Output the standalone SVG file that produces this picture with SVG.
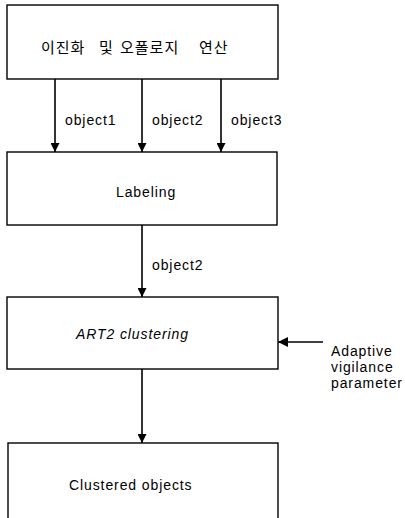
<svg xmlns="http://www.w3.org/2000/svg" width="405" height="518" viewBox="0 0 405 518">
<defs>
<style>
.box{fill:#fff;stroke:#000;stroke-width:1.4}
.t{font-family:"Liberation Sans",Arial,sans-serif;font-size:14px;fill:#000;letter-spacing:0.9px}
.k{font-family:"Noto Sans CJK KR","Liberation Sans",sans-serif;font-size:15px;fill:#000;letter-spacing:1px}
.c{stroke:#000;stroke-width:1.6;fill:none}
</style>
<marker id="ah" viewBox="0 0 10 10" refX="10" refY="5" markerWidth="13" markerHeight="9" markerUnits="userSpaceOnUse" orient="auto">
<path d="M0,0 L10,5 L0,10 Z" fill="#000"/>
</marker>
<marker id="ahL" viewBox="0 0 10 10" refX="10" refY="5" markerWidth="13" markerHeight="10" markerUnits="userSpaceOnUse" orient="auto">
<path d="M0,0 L10,5 L0,10 Z" fill="#000"/>
</marker>
</defs>
<rect width="405" height="518" fill="#fff"/>
<g id="n1"><rect class="box" x="7" y="5" width="271" height="74"/><text class="k" y="53"><tspan x="41">이진화</tspan><tspan x="99">및</tspan><tspan x="120">오폴로지</tspan><tspan x="199">연산</tspan></text></g>
<g id="n2"><rect class="box" x="7" y="152" width="270" height="73"/><text class="t" x="116" y="197">Labeling</text></g>
<g id="n3"><rect class="box" x="7" y="297" width="271" height="72"/><text class="t" x="76" y="339" font-style="italic" letter-spacing="0.6">ART2 clustering</text></g>
<g id="n4"><rect class="box" x="8" y="443" width="270" height="80"/><text class="t" x="69" y="490">Clustered objects</text></g>
<g id="n5"><text class="t" x="331" y="356" letter-spacing="0.6">Adaptive</text><text class="t" x="331" y="372" letter-spacing="0.6">vigilance</text><text class="t" x="331" y="388" letter-spacing="0.6">parameter</text></g>
<g id="connectors">
<line class="c" x1="55" y1="79" x2="55" y2="152" marker-end="url(#ah)"/>
<line class="c" x1="142" y1="79" x2="142" y2="152" marker-end="url(#ah)"/>
<line class="c" x1="221" y1="79" x2="221" y2="152" marker-end="url(#ah)"/>
<line class="c" x1="142" y1="225" x2="142" y2="297" marker-end="url(#ah)"/>
<line class="c" x1="142" y1="369" x2="142" y2="443" marker-end="url(#ah)"/>
<line class="c" x1="323" y1="342" x2="278" y2="342" marker-end="url(#ahL)"/>
<text class="t" x="65" y="125">object1</text>
<text class="t" x="152" y="125">object2</text>
<text class="t" x="231" y="125">object3</text>
<text class="t" x="152" y="270">object2</text>
</g>
</svg>
